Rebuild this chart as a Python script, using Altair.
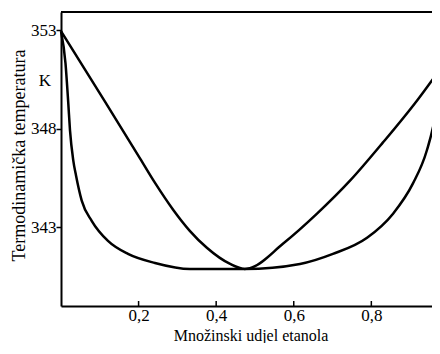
import altair as alt
import pandas as pd

# Dew (vapour) curve
dew_x = [0.0, 0.113, 0.204, 0.242, 0.289, 0.332, 0.376, 0.436, 0.474, 0.487, 0.572, 0.660, 0.745, 0.830, 0.918, 0.977]
dew_T = [352.95, 349.39, 346.49, 345.27, 343.90, 342.83, 341.97, 341.15, 340.90, 340.94, 342.17, 343.70, 345.37, 347.31, 349.44, 351.02]

# Bubble (liquid) curve
bub_x = [0.0, 0.0116, 0.0188, 0.0232, 0.0317, 0.0387, 0.0534, 0.0791, 0.1211, 0.1727, 0.2423, 0.3325, 0.4742, 0.616, 0.701, 0.789, 0.856, 0.907, 0.943, 0.964, 0.977]
bub_T = [352.95, 351.32, 349.29, 347.92, 346.39, 345.63, 344.36, 343.34, 342.32, 341.66, 341.20, 340.89, 340.89, 341.15, 341.66, 342.48, 343.70, 345.22, 346.90, 348.58, 350.31]

x_ticks = [0.2, 0.4, 0.6, 0.8]
y_ticks = [343, 348, 353]

W, H = 379, 294
XDOM = [0, 0.977]
YDOM = [339.02, 353.92]
FONT = "Liberation Serif"

df = pd.concat([
    pd.DataFrame({"x": dew_x, "T": dew_T, "curve": "dew", "o": range(len(dew_x))}),
    pd.DataFrame({"x": bub_x, "T": bub_T, "curve": "bubble", "o": range(len(bub_x))}),
])

xs = alt.Scale(domain=XDOM, nice=False, zero=False)
ys = alt.Scale(domain=YDOM, nice=False, zero=False)

lines = alt.Chart(df).mark_line(color="black", strokeWidth=2.5, interpolate="monotone").encode(
    x=alt.X("x:Q", scale=xs, axis=alt.Axis(
        values=x_ticks, title="Množinski udjel etanola", tickSize=0,
        labelExpr="replace(format(datum.value, '.1f'), '.', ',')",
        labelFont=FONT, labelFontSize=17, labelColor="black",
        labelBaseline="alphabetic", labelPadding=14,
        titleFont=FONT, titleFontSize=16, titleFontWeight="normal", titleColor="black",
        titleBaseline="alphabetic", titleY=34,
        domainColor="black", domainWidth=2, grid=False)),
    y=alt.Y("T:Q", scale=ys, axis=alt.Axis(
        values=y_ticks, title="Termodinamička temperatura", tickSize=5, tickColor="black", tickWidth=1.5,
        labelFont=FONT, labelFontSize=17, labelColor="black", labelPadding=0,
        titleFont=FONT, titleFontSize=18, titleFontWeight="normal", titleColor="black",
        titleX=-42, titleY=143, titleBaseline="middle",
        domainColor="black", domainWidth=2, grid=False)),
    detail="curve:N",
    order="o:Q",
)

xt = alt.Chart(pd.DataFrame({"x": x_ticks})).mark_rule(color="black", strokeWidth=1.5).encode(
    x=alt.X("x:Q", scale=xs), y=alt.value(H - 5), y2=alt.value(H)
)

top = alt.Chart(pd.DataFrame({"a": [0]})).mark_rule(color="black", strokeWidth=2).encode(
    x=alt.value(0), x2=alt.value(W), y=alt.value(0)
)

klab = alt.Chart(pd.DataFrame({"T": [350.4], "t": ["K"]})).mark_text(
    font=FONT, fontSize=17, color="black", align="center", baseline="middle"
).encode(x=alt.value(-16), y=alt.Y("T:Q", scale=ys), text="t:N")

chart = alt.layer(lines, xt, top, klab).properties(
    width=W, height=H,
    autosize=alt.AutoSizeParams(type="none"),
    padding={"left": 53, "top": 4, "right": -8, "bottom": 37},
).configure_view(stroke=None).configure(background="white")

chart.save("out.html", embed_options={"renderer": "svg", "actions": False})
